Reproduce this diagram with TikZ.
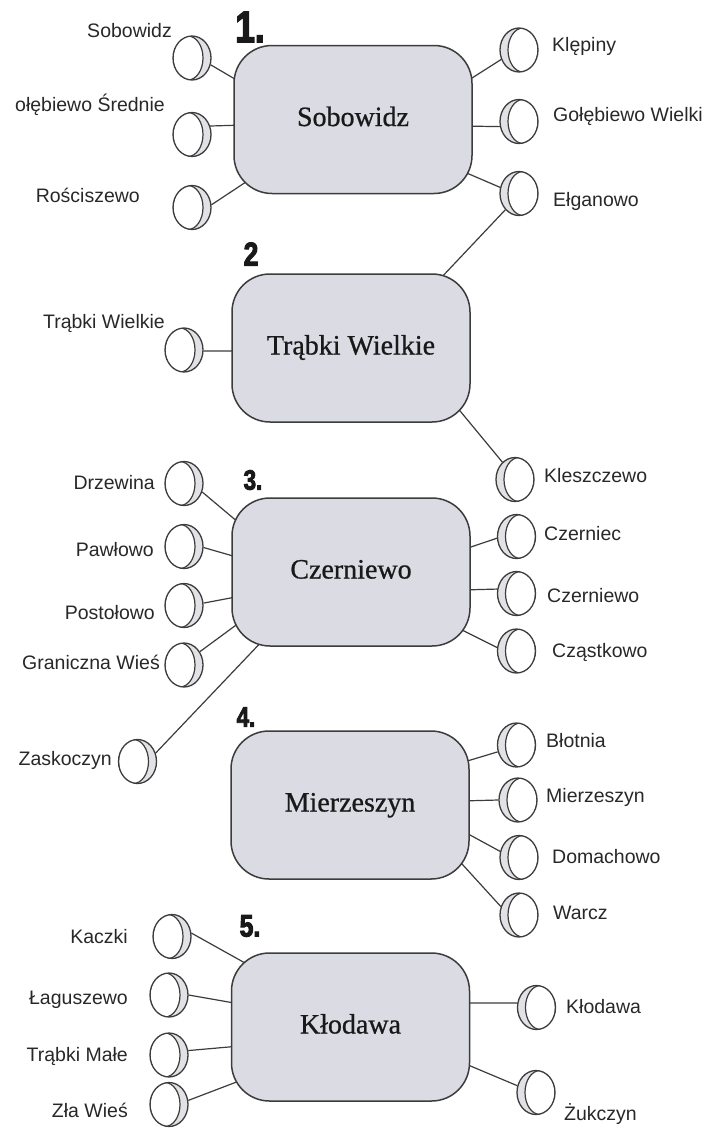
\documentclass[tikz,border=0pt]{standalone}
\usepackage{fontspec}
\setmainfont{Liberation Serif}
\newfontfamily\labfont{Liberation Sans}
\newfontfamily\boxfont[FakeBold=0.7]{Liberation Serif}
\newfontfamily\numfont[FakeStretch=0.8, BoldFeatures={FakeBold=3}]{Liberation Sans}
\usetikzlibrary{shapes.geometric,calc}
\definecolor{boxfill}{RGB}{218,219,227}
\definecolor{inkline}{RGB}{60,60,60}
\definecolor{rimfill}{RGB}{226,226,230}
\definecolor{labtext}{RGB}{40,40,40}
\pgfdeclarelayer{bg}
\pgfsetlayers{bg,main}
\tikzset{
  boxst/.style={rectangle, rounded corners=38pt, minimum width=238pt, minimum height=148pt,
    draw=inkline, line width=1.5pt, fill=boxfill, inner sep=0pt,
    font=\boxfont\fontsize{28}{32}\selectfont, text=black!90, text height=19pt, text depth=6pt},
  coin/.style={ellipse, minimum width=38pt, minimum height=44pt, inner sep=0pt,
    draw=inkline, line width=1.3pt, fill=rimfill},
  coinL/.style={coin, path picture={\filldraw[fill=white, draw=inkline, line width=1.2pt]
    ([xshift=-4pt]path picture bounding box.center) ellipse [x radius=15pt, y radius=22pt];}},
  coinR/.style={coin, path picture={\filldraw[fill=white, draw=inkline, line width=1.2pt]
    ([xshift=4pt]path picture bounding box.center) ellipse [x radius=15pt, y radius=22pt];}},
  labL/.style={anchor=base east, inner sep=0pt, text=labtext, font=\labfont\fontsize{19.5}{23}\selectfont},
  labR/.style={anchor=base west, inner sep=0pt, text=labtext, font=\labfont\fontsize{19.5}{23}\selectfont},
  numst/.style={inner sep=0pt, text=black!90, font=\numfont\bfseries},
  conn/.style={draw=inkline, line width=1.2pt},
}
\begin{document}
\begin{tikzpicture}[x=1pt, y=-1pt]
\begin{pgfonlayer}{bg}
\fill[white] (0,0) rectangle (708,1128);
\end{pgfonlayer}
\useasboundingbox (0,0) rectangle (708,1128);

% numbers
\node[numst, font=\numfont\bfseries\fontsize{44}{44}\selectfont] (n1) at (250,27) {1.};
\node[numst, font=\numfont\bfseries\fontsize{33}{33}\selectfont] (n2) at (251,254) {2};
\node[numst, font=\numfont\bfseries\fontsize{28}{28}\selectfont] (n3) at (253,480) {3.};
\node[numst, font=\numfont\bfseries\fontsize{28}{28}\selectfont] (n4) at (246,717) {4.};
\node[numst, font=\numfont\bfseries\fontsize{31}{31}\selectfont] (n5) at (250,926) {5.};

% boxes
\node[boxst] (b1) at (353,119.5) {Sobowidz};
\node[boxst] (b2) at (351,348) {Trąbki Wielkie};
\node[boxst] (b3) at (351,572) {Czerniewo};
\node[boxst] (b4) at (350,805) {Mierzeszyn};
\node[boxst] (b5) at (350.5,1027) {Kłodawa};

% left coins
\node[coinL] (cSob) at (192,58) {};
\node[coinL] (cGS) at (192,134.5) {};
\node[coinL] (cRos) at (192,207.5) {};
\node[coinL] (cTW) at (184,350) {};
\node[coinL] (cDrz) at (184,483.5) {};
\node[coinL] (cPaw) at (184,546.5) {};
\node[coinL] (cPos) at (184,605.5) {};
\node[coinL] (cGW) at (184,665) {};
\node[coinL] (cZas) at (137.5,761.5) {};
\node[coinL] (cKac) at (172,936.5) {};
\node[coinL] (cLag) at (169,995) {};
\node[coinL] (cTM) at (169,1055) {};
\node[coinL] (cZW) at (169,1104.5) {};

% right coins
\node[coinR] (cKle) at (519,50) {};
\node[coinR] (cGWi) at (519,121.5) {};
\node[coinR] (cElg) at (519,193.5) {};
\node[coinR] (cKles) at (515,479.5) {};
\node[coinR] (cCzc) at (516.5,536.5) {};
\node[coinR] (cCzw) at (516.5,593.5) {};
\node[coinR] (cCza) at (516.5,651) {};
\node[coinR] (cBlo) at (516.5,745) {};
\node[coinR] (cMie) at (518,800) {};
\node[coinR] (cDom) at (519,857.5) {};
\node[coinR] (cWar) at (519,915) {};
\node[coinR] (cKlo) at (536.5,1007.5) {};
\node[coinR] (cZuk) at (536,1092.5) {};

% left labels
\node[labL] (tSob) at (172,37) {Sobowidz};
\node[labL] (tGS) at (165,111) {ołębiewo Średnie};
\node[labL] (tRos) at (140,202) {Rościszewo};
\node[labL] (tTW) at (165,328) {Trąbki Wielkie};
\node[labL] (tDrz) at (155,489) {Drzewina};
\node[labL] (tPaw) at (154,556) {Pawłowo};
\node[labL] (tPos) at (155,619) {Postołowo};
\node[labL] (tGW) at (160,669) {Graniczna Wieś};
\node[labL] (tZas) at (112,765) {Zaskoczyn};
\node[labL] (tKac) at (128,943) {Kaczki};
\node[labL] (tLag) at (128,1004) {Łaguszewo};
\node[labL] (tTM) at (128,1061) {Trąbki Małe};
\node[labL] (tZW) at (128,1117) {Zła Wieś};

% right labels
\node[labR] (tKle) at (552,51) {Klępiny};
\node[labR] (tGWi) at (553,121) {Gołębiewo Wielki};
\node[labR] (tElg) at (553,206) {Ełganowo};
\node[labR] (tKles) at (544,482) {Kleszczewo};
\node[labR] (tCzc) at (544,540) {Czerniec};
\node[labR] (tCzw) at (547,602) {Czerniewo};
\node[labR] (tCza) at (552,657) {Cząstkowo};
\node[labR] (tBlo) at (546,747) {Błotnia};
\node[labR] (tMie) at (546,802) {Mierzeszyn};
\node[labR] (tDom) at (552,863) {Domachowo};
\node[labR] (tWar) at (553,919) {Warcz};
\node[labR] (tKlo) at (566,1013) {Kłodawa};
\node[labR] (tZuk) at (564,1120) {Żukczyn};

\begin{pgfonlayer}{bg}
\draw[conn] (cSob.-20) -- ($(b1)+(-108,-34.5)$);
\draw[conn] (cGS.25) -- ($(b1)+(-109,5.5)$);
\draw[conn] (cRos.8) -- ($(b1)+(-98,56.5)$);
\draw[conn] (cTW.-3) -- ($(b2)+(-110,3)$);
\draw[conn] (cDrz.-25) -- ($(b3)+(-106,-44)$);
\draw[conn] (cPaw.-3) -- ($(b3)+(-111,-14)$);
\draw[conn] (cPos.7) -- ($(b3)+(-110,24)$);
\draw[conn] (cGW.40) -- ($(b3)+(-104,45)$);
\draw[conn] (cZas.25) -- ($(b3)+(-84,64)$);
\draw[conn] (cKac.10) -- ($(b5)+(-96.5,-59)$);
\draw[conn] (cLag.0) -- ($(b5)+(-110.5,-23)$);
\draw[conn] (cTM.13) -- ($(b5)+(-110.5,19)$);
\draw[conn] (cZW.12) -- ($(b5)+(-103.5,51)$);
\draw[conn] (cKle.208) -- ($(b1)+(108,-34.5)$);
\draw[conn] (cGWi.195) -- ($(b1)+(109,6.5)$);
\draw[conn] (cElg.162) -- ($(b1)+(102,48.5)$);
\draw[conn] (cElg.230) -- ($(b2)+(88,-68)$);
\draw[conn] (cKles.126) -- ($(b2)+(100,52)$);
\draw[conn] (cCzc.185) -- ($(b3)+(111,-22)$);
\draw[conn] (cCzw.167) -- ($(b3)+(111,18)$);
\draw[conn] (cCza.170) -- ($(b3)+(99,52)$);
\draw[conn] (cBlo.200) -- ($(b4)+(104,-40)$);
\draw[conn] (cMie.180) -- ($(b4)+(110,-4)$);
\draw[conn] (cDom.162) -- ($(b4)+(109,24)$);
\draw[conn] (cWar.155) -- ($(b4)+(102,48)$);
\draw[conn] (cKlo.167) -- ($(b5)+(111.5,-24)$);
\draw[conn] (cZuk.160) -- ($(b5)+(110.5,35)$);
\end{pgfonlayer}
\end{tikzpicture}
\end{document}
